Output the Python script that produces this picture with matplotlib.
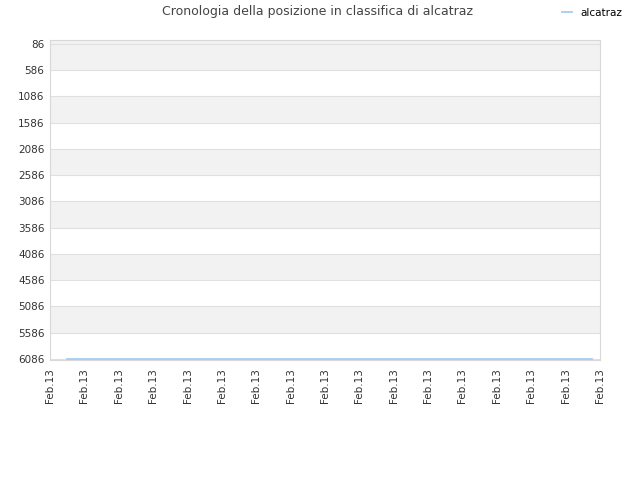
import matplotlib
matplotlib.use('Agg')
import matplotlib.pyplot as plt

# ranking history data (position over time)
day_pos = [0.49, 15.77]
rank = [6086, 6086]
tick_labels = ['Feb.13'] * 17
y_ticks = [86, 586, 1086, 1586, 2086, 2586, 3086, 3586, 4086, 4586, 5086, 5586, 6086]

fig = plt.figure(figsize=(6.4, 4.8), dpi=100)
ax = fig.add_axes([50 / 640, 1 - 360 / 480, 550 / 640, 320 / 480])

ax.set_ylim(6086 + 20, 86 - 76)
ax.set_xlim(0, 16)

# alternating bands
for i in range(0, len(y_ticks) - 1, 2):
    ax.axhspan(y_ticks[i], y_ticks[i + 1], color='#f2f2f2', zorder=0, lw=0)
ax.axhspan(86 - 76, 86, color='#f2f2f2', zorder=0, lw=0)

ax.set_yticks(y_ticks)
ax.set_xticks(range(len(tick_labels)))
ax.set_xticklabels(tick_labels, rotation=90)
ax.yaxis.grid(True, color='#e0e0e0', lw=0.8)
ax.set_axisbelow(True)

ax.plot(day_pos, rank, color='#a8ccf0', lw=1.3, label='alcatraz', zorder=3)

for s in ax.spines.values():
    s.set_color('#d8d8d8')
ax.tick_params(axis='both', colors='#333333', labelsize=7.5, length=0, pad=4)
ax.tick_params(axis='x', pad=6)

fig.text(318 / 640, 1 - 12 / 480, 'Cronologia della posizione in classifica di alcatraz',
         ha='center', va='center', fontsize=9, color='#444444')
fig.legend(loc='center', bbox_to_anchor=(592 / 640, 1 - 13 / 480), frameon=False,
           fontsize=7.5, handlelength=1.0, handletextpad=0.8)

fig.savefig('out.png', dpi=100)
